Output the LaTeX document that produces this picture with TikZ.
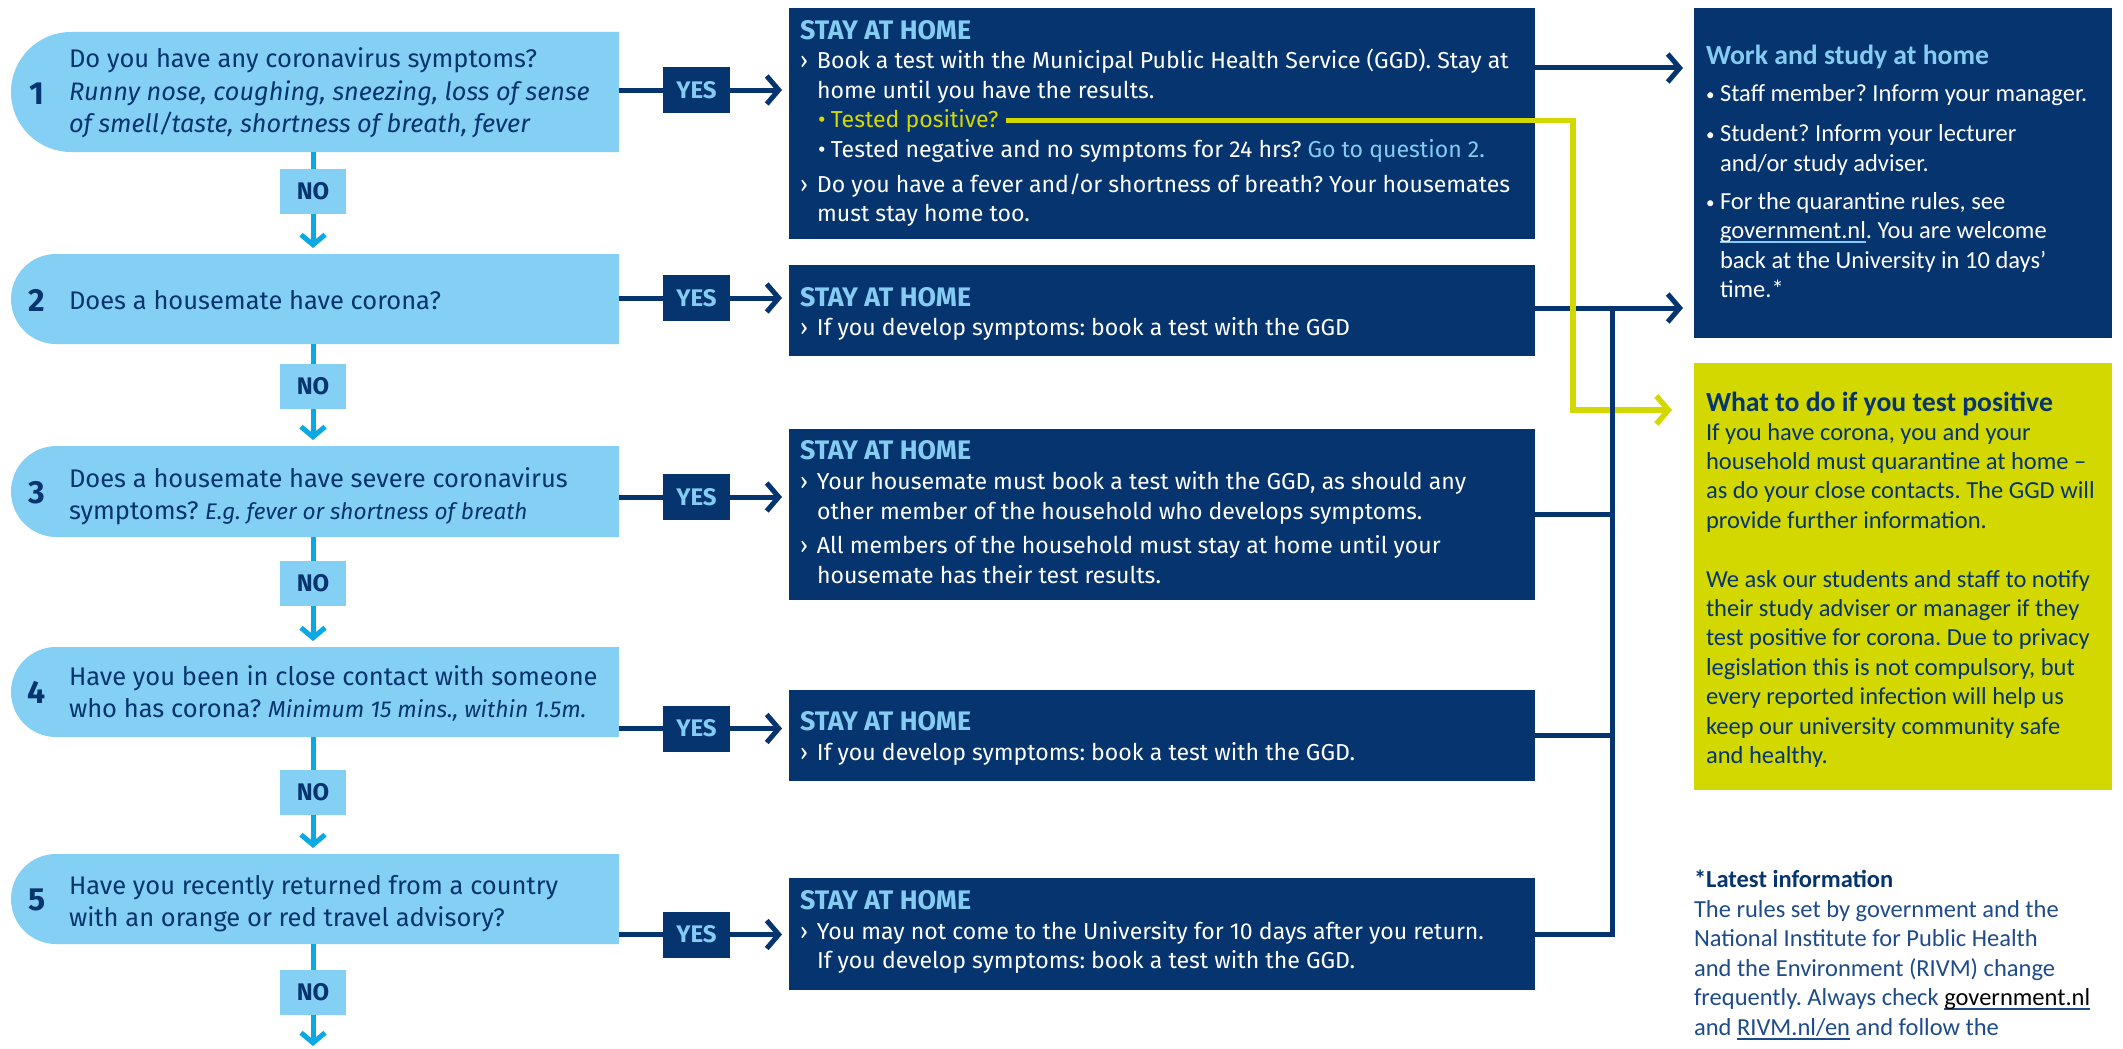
\documentclass[tikz,border=0pt]{standalone}
\usepackage{fontspec}
\usetikzlibrary{arrows.meta,calc}
\newfontfamily\fira{Fira Sans}
\newfontfamily\carl{Carlito}
\definecolor{navy}{HTML}{05346F}
\definecolor{qfill}{HTML}{84D0F4}
\definecolor{cyanl}{HTML}{0AA8E4}
\definecolor{lblue}{HTML}{85CCF2}
\definecolor{lime}{HTML}{D2D800}
\definecolor{foot}{HTML}{1E4B8B}
\newcommand\marr{\makebox[17pt][l]{›}}
\newcommand\subbul{\makebox[13pt][l]{•}}
\newcommand\wbul{\makebox[14pt][l]{\raisebox{1pt}{\fontsize{17}{17}\selectfont•}}}
\newsavebox\ulbox
\newcommand\ulc[2]{\sbox\ulbox{#2}\leavevmode\rlap{\textcolor{#1}{\rule[-4.5pt]{\wd\ulbox}{1.8pt}}}\usebox\ulbox}
\begin{document}
\frenchspacing
\begin{tikzpicture}[x=1pt,y=-1pt,
  every node/.style={inner sep=0pt,outer sep=0pt},
  qanchor/.style={rectangle,minimum width=608pt,anchor=north west},
  abox/.style={rectangle,fill=navy,minimum width=746pt,anchor=north west},
  sbox/.style={rectangle,minimum width=418pt,anchor=north west},
  yesbox/.style={fill=navy,text=lblue,font=\fira\bfseries\fontsize{24}{24}\selectfont,minimum width=67pt,minimum height=46pt},
  nobox/.style={fill=qfill,text=navy,font=\fira\bfseries\fontsize{24}{24}\selectfont,minimum width=66pt,minimum height=45pt},
  qnum/.style={anchor=base,text=navy,font=\fira\bfseries\fontsize{32}{32}\selectfont},
  qt/.style={anchor=base west,text=navy,font=\fira\fontsize{25.5}{32}\selectfont},
  qi/.style={font=\fira\itshape\fontsize{25.3}{32}\selectfont},
  mt/.style={anchor=base west,text=white,font=\fira\fontsize{23.1}{29}\selectfont},
  mh/.style={anchor=base west,text=lblue,font=\fira\bfseries\fontsize{26.8}{29}\selectfont},
  rt/.style={anchor=base west,font=\carl\fontsize{24.5}{29.5}\selectfont},
  rb/.style={anchor=base west,font=\carl\bfseries\fontsize{24.5}{29.5}\selectfont},
  rbig/.style={anchor=base west,font=\carl\bfseries\fontsize{27.7}{29.5}\selectfont},
  navyline/.style={draw=navy,line width=5pt},
  navyarrow/.style={navyline,-{Straight Barb[length=12pt,width=28pt]}},
  cyanline/.style={draw=cyanl,line width=5pt},
  cyanarrow/.style={cyanline,-{Straight Barb[length=10pt,width=24pt]}},
  limearrow/.style={draw=lime,line width=5.5pt,-{Straight Barb[length=12pt,width=28pt]}}]
\fill[white] (0,0) rectangle (2123,1049);
\useasboundingbox (0,0) rectangle (2123,1049);

% question boxes (shape: rounded left end)
\begin{scope}
\clip (0,0) rectangle (619,1049);
\foreach \t/\h in {32/120,254/90,446/91,647/90,854/90}{
  \pgfmathsetmacro\rr{\h/2}
  \fill[qfill,rounded corners=\rr pt] (11,\t) rectangle (760,\t+\h);
}
\end{scope}
\node[qanchor,minimum height=120pt] (q1) at (11,32) {};
\node[qanchor,minimum height=90pt] (q2) at (11,254) {};
\node[qanchor,minimum height=91pt] (q3) at (11,446) {};
\node[qanchor,minimum height=90pt] (q4) at (11,647) {};
\node[qanchor,minimum height=90pt] (q5) at (11,854) {};

% answer boxes
\node[abox,minimum height=231pt] (ansA) at (789,8) {};
\node[abox,minimum height=91pt] (ansB) at (789,265) {};
\node[abox,minimum height=171pt] (ansC) at (789,429) {};
\node[abox,minimum height=91pt] (ansD) at (789,690) {};
\node[abox,minimum height=112pt] (ansE) at (789,878) {};

% side boxes
\node[sbox,fill=navy,minimum height=330pt] (work) at (1694,8) {};
\node[sbox,fill=lime,minimum height=427pt] (ybox) at (1694,363) {};

% YES / NO labels
\node[yesbox] (yes1) at (696.5,90) {YES};
\node[yesbox] (yes2) at (696.5,298) {YES};
\node[yesbox] (yes3) at (696.5,497) {YES};
\node[yesbox] (yes4) at (696.5,728.5) {YES};
\node[yesbox] (yes5) at (696.5,934.5) {YES};
\node[nobox] (no1) at (313,191.5) {NO};
\node[nobox] (no2) at (313,386.5) {NO};
\node[nobox] (no3) at (313,583.5) {NO};
\node[nobox] (no4) at (313,792.5) {NO};
\node[nobox] (no5) at (313,992.5) {NO};
\coordinate (qend) at (313,1049);

% YES connectors
\foreach \q/\y/\a in {q1/yes1/ansA,q2/yes2/ansB,q3/yes3/ansC,q4/yes4/ansD,q5/yes5/ansE}{
  \draw[navyline] (\q.east |- \y.west) -- (\y.west);
  \draw[navyarrow,shorten >=7pt] (\y.east) -- (\y.east -| \a.west);
}
% NO connectors
\foreach \q/\n/\nq in {q1/no1/q2,q2/no2/q3,q3/no3/q4,q4/no4/q5}{
  \draw[cyanline] (\n.north |- \q.south) -- (\n.north);
  \draw[cyanarrow,shorten >=6pt] (\n.south) -- (\n.south |- \nq.north);
}
\draw[cyanline] (no5.north |- q5.south) -- (no5.north);
\draw[cyanarrow,shorten >=3pt] (no5.south) -- (qend);

% right connectors
\coordinate (busTop) at (1612,308);
\coordinate (yturn) at (1573,410);
\draw[navyarrow,shorten >=11pt] ([yshift=55.5pt]ansA.east) -- ([yshift=55.5pt]ansA.east -| work.west);
\draw[navyarrow,shorten >=11pt] ([yshift=2.5pt]ansB.east) -- ([yshift=2.5pt]ansB.east -| work.west);

% text of box A (needed for yellow line)
\node[mh] (aH) at (800,40) {STAY AT HOME};
\node[mt] (a1) at (800,69) {\marr Book a test with the Municipal Public Health Service (GGD). Stay at};
\node[mt] (a2) at (817,98) {home until you have the results.};
\node[mt,text=lime] (tpos) at (818,127) {\subbul Tested positive?};
\node[mt] (a4) at (818,157) {\subbul Tested negative and no symptoms for 24 hrs? \textcolor{lblue}{Go to question 2.}};
\node[mt] (a5) at (800,192) {\marr Do you have a fever and/or shortness of breath? Your housemates};
\node[mt] (a6) at (817,221) {must stay home too.};

\draw[limearrow,shorten >=22pt] ([xshift=8pt]tpos.east) -- (tpos.east -| yturn) -- (yturn) -- (yturn -| ybox.west);
\draw[navyline] (busTop) -- (busTop |- ansE.east) -- (ansE.east);
\draw[navyline] (ansC.east) -- (ansC.east -| busTop);
\draw[navyline] (ansD.east) -- (ansD.east -| busTop);

% question numbers
\node[qnum] (n1) at (37,104) {1};
\node[qnum] (n2) at (37,311) {2};
\node[qnum] (n3) at (37,503) {3};
\node[qnum] (n4) at (37,703) {4};
\node[qnum] (n5) at (37,910) {5};

% question texts
\node[qt] (q1a) at (69,68) {Do you have any coronavirus symptoms?};
\node[qt,qi] (q1b) at (69,100) {Runny nose, coughing, sneezing, loss of sense};
\node[qt,qi] (q1c) at (69,132) {of smell/taste, shortness of breath, fever};
\node[qt] (q2a) at (69,309) {Does a housemate have corona?};
\node[qt] (q3a) at (69,487) {Does a housemate have severe coronavirus};
\node[qt] (q3b) at (69,519) {symptoms? {\itshape\fontsize{22.6}{32}\selectfont E.g. fever or shortness of breath}};
\node[qt] (q4a) at (69,685) {Have you been in close contact with someone};
\node[qt] (q4b) at (69,717) {who has corona? {\itshape\fontsize{23}{32}\selectfont Minimum 15 mins., within 1.5m.}};
\node[qt] (q5a) at (69,894) {Have you recently returned from a country};
\node[qt] (q5b) at (69,926) {with an orange or red travel advisory?};

% answer texts
\node[mh] (bH) at (800,306) {STAY AT HOME};
\node[mt] (b1) at (800,335) {\marr If you develop symptoms: book a test with the GGD};
\node[mh] (cH) at (800,459) {STAY AT HOME};
\node[mt] (c1) at (800,489) {\marr Your housemate must book a test with the GGD, as should any};
\node[mt] (c2) at (817,519) {other member of the household who develops symptoms.};
\node[mt] (c3) at (800,553) {\marr All members of the household must stay at home until your};
\node[mt] (c4) at (817,583) {housemate has their test results.};
\node[mh] (dH) at (800,730) {STAY AT HOME};
\node[mt] (d1) at (800,760) {\marr If you develop symptoms: book a test with the GGD.};
\node[mh] (eH) at (800,909) {STAY AT HOME};
\node[mt] (e1) at (800,939) {\marr You may not come to the University for 10 days after you return.};
\node[mt] (e2) at (817,968) {If you develop symptoms: book a test with the GGD.};

% work box text
\node[rbig,text=lblue] (wH) at (1706,65) {Work and study at home};
\node[rt,text=white] (w1) at (1706,101) {\wbul Staff member? Inform your manager.};
\node[rt,text=white] (w2) at (1706,141) {\wbul Student? Inform your lecturer};
\node[rt,text=white] (w3) at (1720,171) {and/or study adviser.};
\node[rt,text=white] (w4) at (1706,209) {\wbul For the quarantine rules, see};
\node[rt,text=white] (w5) at (1720,238) {\ulc{lblue}{government.nl}. You are welcome};
\node[rt,text=white] (w6) at (1720,268) {back at the University in 10 days’};
\node[rt,text=white] (w7) at (1720,297) {time.*};

% yellow box text
\node[rbig,text=navy] (yH) at (1706,411) {What to do if you test positive};
\node[rt,text=navy] (y1) at (1706,440) {If you have corona, you and your};
\node[rt,text=navy] (y2) at (1706,469.4) {household must quarantine at home –};
\node[rt,text=navy] (y3) at (1706,498.8) {as do your close contacts. The GGD will};
\node[rt,text=navy] (y4) at (1706,528.2) {provide further information.};
\node[rt,text=navy] (y5) at (1706,587) {We ask our students and staff to notify};
\node[rt,text=navy] (y6) at (1706,616.4) {their study adviser or manager if they};
\node[rt,text=navy] (y7) at (1706,645.8) {test positive for corona. Due to privacy};
\node[rt,text=navy] (y8) at (1706,675.2) {legislation this is not compulsory, but};
\node[rt,text=navy] (y9) at (1706,704.6) {every reported infection will help us};
\node[rt,text=navy] (y10) at (1706,734) {keep our university community safe};
\node[rt,text=navy] (y11) at (1706,763.4) {and healthy.};

% footnote
\node[rb,text=navy] (fH) at (1694,887) {*Latest information};
\node[rt,text=foot] (f1) at (1694,917) {The rules set by government and the};
\node[rt,text=foot] (f2) at (1694,946.5) {National Institute for Public Health};
\node[rt,text=foot] (f3) at (1694,976) {and the Environment (RIVM) change};
\node[rt,text=foot] (f4) at (1694,1005.5) {frequently. Always check \ulc{foot}{\textcolor{black}{government.nl}}};
\node[rt,text=foot] (f5) at (1694,1035) {and \ulc{foot}{RIVM.nl/en} and follow the};
\end{tikzpicture}
\end{document}
